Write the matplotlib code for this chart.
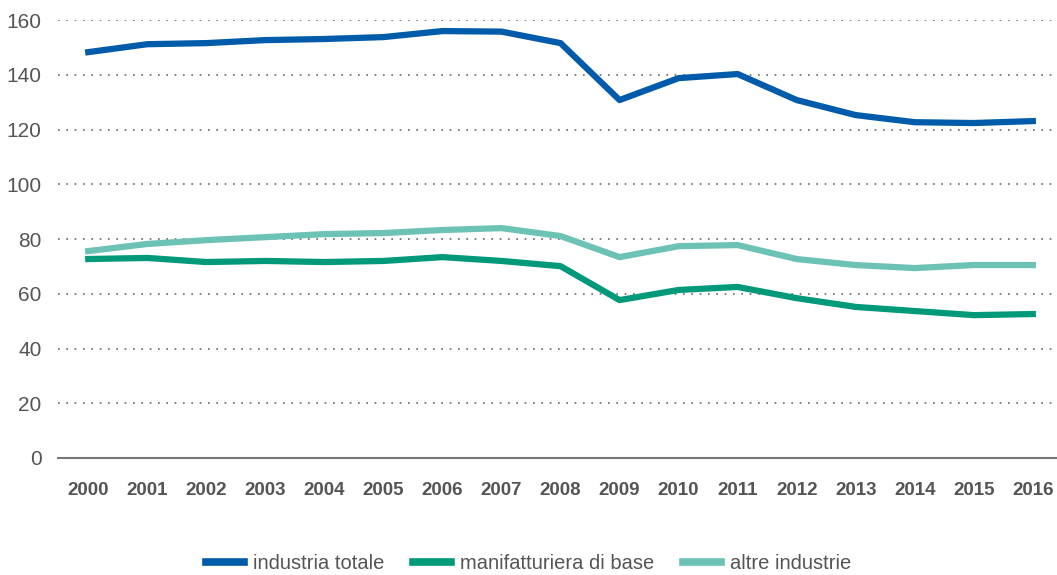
import matplotlib
matplotlib.use("Agg")
import matplotlib.pyplot as plt

# dati
anni = list(range(2000, 2017))
industria_totale = [148.3, 151.2, 151.6, 152.7, 153.1, 153.8, 156.0, 155.8, 151.6,
                    130.8, 138.8, 140.3, 130.8, 125.3, 122.7, 122.4, 123.1]
manifatturiera_base = [72.7, 73.1, 71.6, 72.0, 71.6, 72.0, 73.4, 72.0, 70.1,
                       57.7, 61.4, 62.5, 58.4, 55.2, 53.7, 52.2, 52.6]
altre_industrie = [75.6, 78.2, 79.6, 80.7, 81.8, 82.2, 83.3, 84.0, 81.1,
                   73.4, 77.4, 77.8, 72.7, 70.5, 69.4, 70.5, 70.5]
yticks = [0, 20, 40, 60, 80, 100, 120, 140, 160]

plt.rcParams['font.family'] = ['Liberation Sans', 'DejaVu Sans']

fig = plt.figure(figsize=(10.57, 5.75), dpi=100)
ax = fig.add_axes([0.055, 0.2035, 0.945, 0.7615])

ax.plot(anni, industria_totale, color='#005BAA', lw=4.5, label='industria totale', clip_on=False)
ax.plot(anni, manifatturiera_base, color='#00997A', lw=4.5, label='manifatturiera di base', clip_on=False)
ax.plot(anni, altre_industrie, color='#6CC3B5', lw=4.5, label='altre industrie', clip_on=False)

ax.set_ylim(0, 160)
ax.set_xlim(1999.49, 2016.41)
ax.set_yticks(yticks)
ax.set_xticks(anni)
ax.set_xticklabels([str(a) for a in anni], fontsize=13.5, fontweight='bold', color='#555555')
ax.tick_params(axis='y', labelsize=15, labelcolor='#555555', length=0, pad=12)
ax.tick_params(axis='x', length=0, pad=17)

for y in yticks[1:]:
    ax.axhline(y, color='#666666', lw=1.2, ls=(0, (1, 4)), zorder=0)

for s in ['top', 'right', 'left']:
    ax.spines[s].set_visible(False)
ax.spines['bottom'].set_color('#777777')
ax.spines['bottom'].set_linewidth(1.5)

leg = fig.legend(loc='lower center', bbox_to_anchor=(0.5, -0.028), ncol=3, frameon=False,
                 fontsize=14.5, handlelength=1.9, columnspacing=1.4, handletextpad=0.45,
                 labelcolor='#555555')
for h in leg.get_lines():
    h.set_linewidth(5.5)

fig.savefig('out.png', dpi=100)
